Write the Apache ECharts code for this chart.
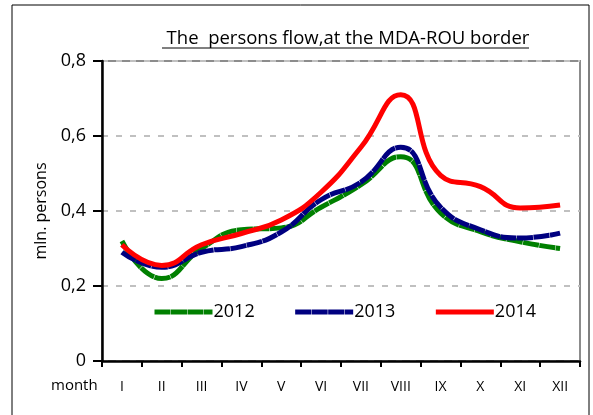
<!DOCTYPE html>
<html>
<head>
<meta charset="utf-8">
<script src="https://cdn.jsdelivr.net/npm/echarts@6/dist/echarts.min.js"></script>
<style>
  html, body { margin: 0; padding: 0; background: #fff; }
  #main { width: 593px; height: 415px; }
</style>
</head>
<body>
<div id="main"></div>
<script>
// months and yearly values (mln. persons)
var months = ['I', 'II', 'III', 'IV', 'V', 'VI', 'VII', 'VIII', 'IX', 'X', 'XI', 'XII'];
var y2012 = [0.32, 0.22, 0.30, 0.35, 0.355, 0.41, 0.47, 0.545, 0.395, 0.345, 0.318, 0.30];
var y2013 = [0.29, 0.25, 0.29, 0.305, 0.344, 0.43, 0.477, 0.57, 0.41, 0.35, 0.328, 0.341];
var y2014 = [0.31, 0.255, 0.31, 0.34, 0.376, 0.45, 0.57, 0.71, 0.495, 0.465, 0.408, 0.416];

var chart = echarts.init(document.getElementById('main'));
var font = 'Open Sans';

function line(name, data, color, dashed) {
  return {
    name: name,
    type: 'line',
    data: data,
    smooth: 0.5,
    symbol: 'none',
    lineStyle: {
      color: color,
      width: 5,
      type: dashed ? [16, 0.5] : 'solid'
    },
    itemStyle: { color: color }
  };
}

var option = {
  backgroundColor: '#ffffff',
  animation: false,
  title: {
    text: 'The  persons flow,at the MDA-ROU border',
    left: 343,
    textAlign: 'center',
    top: 24,
    textStyle: { fontFamily: font, fontSize: 18.5, fontWeight: 'normal', color: '#000' }
  },
  legend: {
    top: 298,
    left: 147,
    itemWidth: 58,
    itemHeight: 14,
    itemGap: 38,
    itemStyle: { opacity: 0 },
    lineStyle: { width: 5 },
    textStyle: { fontFamily: font, fontSize: 18, color: '#000', padding: [0, 0, 0, -4] },
    data: ['2012', '2013', '2014']
  },
  grid: {
    left: 102, right: 13, top: 61, bottom: 54,
    show: true,
    borderColor: '#8c8c8c',
    borderWidth: 2
  },
  xAxis: {
    type: 'category',
    data: months,
    boundaryGap: true,
    axisLine: { lineStyle: { color: '#000', width: 2.5 } },
    axisTick: { show: true, length: 6, lineStyle: { color: '#000', width: 2 } },
    axisLabel: { fontFamily: font, fontSize: 14, color: '#000', margin: 19 }
  },
  yAxis: {
    type: 'value',
    min: 0, max: 0.8, interval: 0.2,
    name: 'mln. persons',
    nameLocation: 'middle',
    nameRotate: 90,
    nameGap: 49,
    nameTextStyle: { fontFamily: font, fontSize: 16, color: '#000' },
    axisLine: { show: true, lineStyle: { color: '#000', width: 2.5 } },
    axisTick: { show: true, length: 9, lineStyle: { color: '#000', width: 2 } },
    axisLabel: {
      fontFamily: font, fontSize: 18, color: '#000', margin: 16,
      formatter: function (v) { return String(+v.toFixed(1)).replace('.', ','); }
    },
    splitLine: { show: true, lineStyle: { color: '#c0c0c0', width: 2, type: [6, 8] } }
  },
  graphic: [
    { type: 'rect', shape: { x: 12, y: 5, width: 577, height: 430 },
      style: { fill: null, stroke: '#000', lineWidth: 1 }, silent: true },
    { type: 'line', shape: { x1: 162, y1: 48, x2: 529, y2: 48 },
      style: { stroke: '#000', lineWidth: 1 } },
    { type: 'text', left: 51, top: 378,
      style: { text: 'month', fontFamily: font, fontSize: 15, fill: '#000' } }
  ],
  series: [
    line('2012', y2012, '#008000', true),
    line('2013', y2013, '#000080', true),
    line('2014', y2014, '#ff0000', false)
  ]
};

chart.setOption(option);
</script>
</body>
</html>
